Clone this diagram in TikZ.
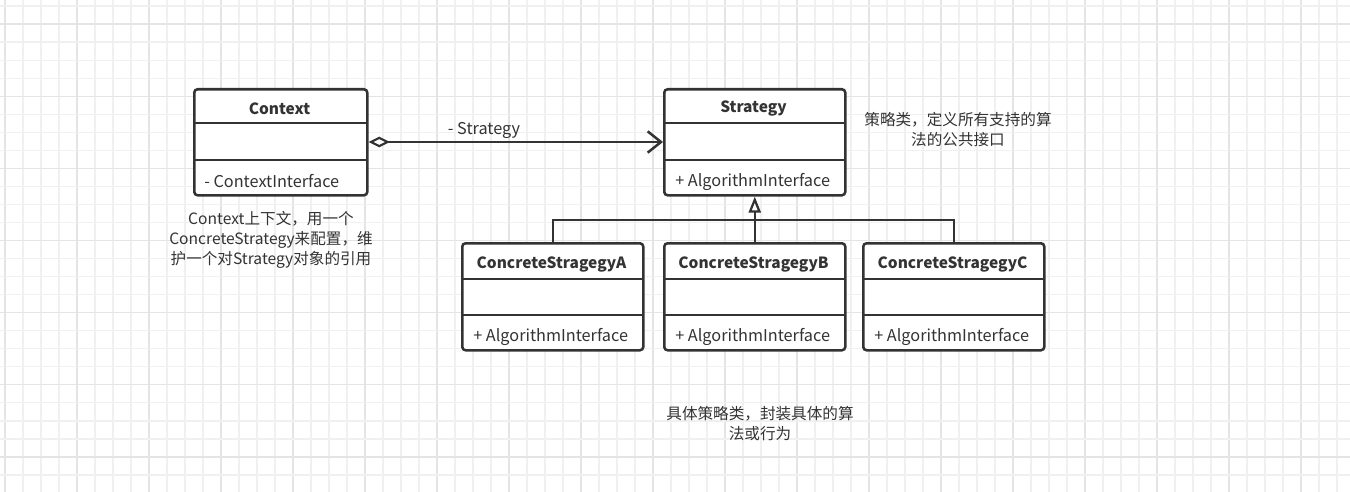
\documentclass[tikz,border=0pt]{standalone}
\usepackage{fontspec}
\setmainfont{Noto Sans CJK SC}
\usetikzlibrary{arrows.meta}
\definecolor{ink}{HTML}{333333}
\definecolor{gridminor}{HTML}{F0F0F0}
\definecolor{gridmajor}{HTML}{E4E4E4}
\begin{document}
\begin{tikzpicture}[x=0.75pt,y=-0.75pt,
  classbox/.style={draw=ink, line width=1.9pt, rounded corners=2.5pt, fill=white, inner sep=0pt, anchor=north west},
  divider/.style={draw=ink, line width=1.9pt},
  ttl/.style={font=\bfseries\fontsize{11.6pt}{14pt}\selectfont, text=ink, inner sep=0pt},
  attr/.style={font=\fontsize{12.2pt}{14pt}\selectfont, text=ink, inner sep=0pt, anchor=west},
  note/.style={font=\fontsize{11.7pt}{15pt}\selectfont, text=ink, align=center, inner sep=0pt},
  conn/.style={draw=ink, line width=1.9pt}
]
\useasboundingbox (0,0) rectangle (1350,492);
\fill[white] (0,0) rectangle (1350,492);
% grid
\foreach \i in {0,...,74} {
  \pgfmathsetmacro{\xx}{5+18*\i}
  \pgfmathtruncatemacro{\m}{mod(\i,4)}
  \ifnum\m=0 \draw[gridmajor, line width=0.9pt] (\xx,0) -- (\xx,492);
  \else \draw[gridminor, line width=0.9pt] (\xx,0) -- (\xx,492); \fi
}
\foreach \i in {0,...,27} {
  \pgfmathsetmacro{\yy}{6+18.04*\i}
  \pgfmathtruncatemacro{\m}{mod(\i,4)}
  \ifnum\m=1 \draw[gridmajor, line width=0.9pt] (0,\yy) -- (1350,\yy);
  \else \draw[gridminor, line width=0.9pt] (0,\yy) -- (1350,\yy); \fi
}

% Context
\node[classbox, minimum width=129.75pt, minimum height=79.5pt] (ctx) at (193,88) {};
\draw[divider] (193,123) -- (366,123);
\draw[divider] (193,160) -- (366,160);
\node[ttl] (ctxt) at (279.5,108.5) {Context};
\node[attr] (ctxa) at (204,181.5) {- ContextInterface};

% Strategy
\node[classbox, minimum width=135.75pt, minimum height=79.5pt] (str) at (663,88) {};
\draw[divider] (663,123) -- (844,123);
\draw[divider] (663,160) -- (844,160);
\node[ttl] (strt) at (753.5,108.5) {Strategy};
\node[attr] (stra) at (675,181.5) {+ AlgorithmInterface};

% Concrete strategies
\foreach \nm/\xl/\lab in {ca/461/A, cb/663/B, cc/862/C} {
  \node[classbox, minimum width=135.75pt, minimum height=80.25pt] (\nm) at (\xl,242) {};
  \draw[divider] (\xl,279) -- ({\xl+181},279);
  \draw[divider] (\xl,315) -- ({\xl+181},315);
  \node[ttl] (\nm t) at ({\xl+90.5},264.5) {ConcreteStragegy\lab};
  \node[attr] (\nm a) at ({\xl+12},336.5) {+ AlgorithmInterface};
}

% association
\draw[conn, {Diamond[open, fill=white, length=16pt, width=8pt, line width=1.6pt]}-{Straight Barb[length=10pt, width=16pt, line width=1.9pt]}]
  (ctx.east |- 0,142) -- (str.west |- 0,142);
\node[font=\fontsize{12.2pt}{14pt}\selectfont, text=ink, inner sep=0pt] (asl) at (484,130) {- Strategy};

% inheritance
\coordinate (j) at (753.5,220);
\draw[conn] (ca.north) |- (cc.north |- j) -- (cc.north);
\draw[conn, -{Triangle[open, fill=white, length=12pt, width=9pt, line width=1.7pt]}] (cb.north) -- (str.south);

% notes
\node[note] (n1) at (958,130) {策略类，定义所有支持的算\\法的公共接口};
\node[note] (n2) at (271,240) {Context上下文，用一个\\ConcreteStrategy来配置，维\\护一个对Strategy对象的引用};
\node[note] (n3) at (760,424) {具体策略类，封装具体的算\\法或行为};
\end{tikzpicture}
\end{document}
